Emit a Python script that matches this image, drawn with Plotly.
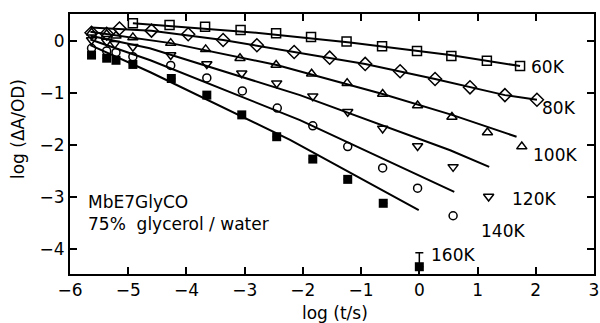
import plotly.graph_objects as go

# ---- data ----
x60 = [-4.92, -4.29, -3.68, -3.07, -2.46, -1.86, -1.25, -0.64, -0.04, 0.55, 1.16, 1.73]
y60 = [0.34, 0.31, 0.275, 0.21, 0.15, 0.08, -0.01, -0.10, -0.19, -0.29, -0.38, -0.48]

x80 = [-5.63, -5.37, -5.15, -4.60, -3.97, -3.37, -2.79, -2.15, -1.54, -0.93, -0.33, 0.27, 0.87, 1.47, 2.02]
y80 = [0.16, 0.14, 0.24, 0.20, 0.13, 0.02, -0.08, -0.21, -0.32, -0.44, -0.58, -0.73, -0.89, -1.04, -1.13]

x100 = [-5.63, -5.37, -5.21, -4.92, -4.27, -3.67, -3.08, -2.46, -1.85, -1.24, -0.63, -0.03, 0.56, 1.17, 1.76]
y100 = [0.16, 0.13, 0.10, 0.07, -0.04, -0.16, -0.33, -0.46, -0.63, -0.81, -1.02, -1.24, -1.46, -1.76, -2.03]

x120 = [-5.63, -5.37, -5.23, -4.92, -4.27, -3.65, -3.05, -2.45, -1.83, -1.23, -0.63, -0.03, 0.58, 1.19]
y120 = [0.02, -0.01, -0.05, -0.11, -0.27, -0.44, -0.62, -0.81, -1.06, -1.36, -1.68, -2.02, -2.42, -2.99]

x140 = [-5.63, -5.37, -5.21, -4.92, -4.27, -3.65, -3.04, -2.44, -1.83, -1.23, -0.63, -0.03, 0.58]
y140 = [-0.14, -0.19, -0.22, -0.30, -0.47, -0.71, -0.96, -1.29, -1.63, -2.03, -2.44, -2.83, -3.36]

x160 = [-5.63, -5.37, -5.21, -4.92, -4.26, -3.65, -3.05, -2.45, -1.83, -1.23, -0.62, 0.0]
y160 = [-0.27, -0.33, -0.37, -0.45, -0.72, -1.04, -1.42, -1.84, -2.27, -2.66, -3.12, -4.34]
err160 = [0, 0, 0, 0, 0, 0, 0, 0, 0, 0, 0, 0.27]

# fitted curves (knots)
fx60 = [-4.92, -2.8, -1.19, 0.53, 1.73]
fy60 = [0.34, 0.16, -0.03, -0.27, -0.48]
fx80 = [-5.65, -4.6, -3.37, -2.15, -0.93, 0.27, 1.47, 2.02]
fy80 = [0.26, 0.20, 0.02, -0.21, -0.44, -0.73, -1.04, -1.13]
fx100 = [-5.65, -4.27, -2.45, -0.63, 0.56, 1.67]
fy100 = [0.18, -0.04, -0.46, -1.02, -1.42, -1.84]
fx120 = [-5.65, -4.63, -2.05, 0.53, 1.20]
fy120 = [0.10, -0.14, -1.04, -2.10, -2.42]
fx140 = [-5.65, -4.62, -2.05, 0.60]
fy140 = [0.03, -0.37, -1.52, -2.90]
fx160 = [-5.65, -4.62, -2.22, -0.01]
fy160 = [-0.08, -0.60, -1.90, -3.25]

labels = ["60K", "80K", "100K", "120K", "140K", "160K"]
label_x = [1.89, 2.08, 1.92, 1.55, 1.03, 0.17]
label_y = [-0.49, -1.29, -2.19, -3.04, -3.65, -4.12]

x_ticks = [-6, -5, -4, -3, -2, -1, 0, 1, 2, 3]
y_ticks = [0, -1, -2, -3, -4]

FONT = "DejaVu Sans"
fig = go.Figure()

fits = [(fx60, fy60), (fx80, fy80), (fx100, fy100), (fx120, fy120), (fx140, fy140), (fx160, fy160)]
for fx, fy in fits:
    fig.add_trace(go.Scatter(x=fx, y=fy, mode="lines", line=dict(color="black", width=2), showlegend=False))

series = [
    (x60, y60, "square-open", 9),
    (x80, y80, "diamond-open", 10),
    (x100, y100, "triangle-up-open", 9),
    (x120, y120, "triangle-down-open", 9),
    (x140, y140, "circle-open", 8),
]
for xs, ys, sym, sz in series:
    fig.add_trace(go.Scatter(x=xs, y=ys, mode="markers",
                             marker=dict(symbol=sym, size=sz, color="black", line=dict(width=1.5, color="black")),
                             showlegend=False))

fig.add_trace(go.Scatter(x=x160, y=y160, mode="markers",
                         marker=dict(symbol="square", size=9, color="black"),
                         error_y=dict(type="data", symmetric=False, array=err160,
                                      arrayminus=[0] * len(err160), color="black", thickness=1.5, width=4),
                         showlegend=False))

for t, lx, ly in zip(labels, label_x, label_y):
    fig.add_annotation(x=lx, y=ly, text=t, showarrow=False, xanchor="left", yanchor="middle",
                       font=dict(family=FONT, size=17, color="black"))

fig.add_annotation(x=-5.72, y=-3.09, text="MbE7GlyCO", showarrow=False, xanchor="left", yanchor="middle",
                   font=dict(family=FONT, size=17, color="black"))
fig.add_annotation(x=-5.72, y=-3.52, text="75%\u00a0 glycerol / water", showarrow=False, xanchor="left",
                   yanchor="middle", font=dict(family=FONT, size=17, color="black"))

# axis titles as annotations for exact placement
fig.add_annotation(xref="paper", yref="paper", x=0.506, y=-0.15, text="log (t/s)", showarrow=False,
                   xanchor="center", yanchor="middle", font=dict(family=FONT, size=17, color="black"))
fig.add_annotation(xref="paper", yref="paper", x=-0.099, y=0.558, text="log (ΔA/OD)", showarrow=False,
                   textangle=-90, xanchor="center", yanchor="middle",
                   font=dict(family=FONT, size=17, color="black"))

axis_common = dict(showgrid=False, zeroline=False, showline=True, linecolor="black", linewidth=2,
                   mirror="ticks", ticks="inside", ticklen=7, tickwidth=1.5, tickcolor="black",
                   automargin=False, tickfont=dict(family=FONT, size=17, color="black"))
fig.update_xaxes(range=[-6, 3], tickvals=x_ticks, **axis_common)
fig.update_yaxes(range=[-4.48, 0.52], tickvals=y_ticks, **axis_common)

fig.update_layout(width=600, height=323, margin=dict(l=70, r=6, t=14, b=49, autoexpand=False),
                  paper_bgcolor="white", plot_bgcolor="white", showlegend=False)

fig.write_html("out.html", config={"displayModeBar": False},
               post_script="document.body.style.margin='0';")
